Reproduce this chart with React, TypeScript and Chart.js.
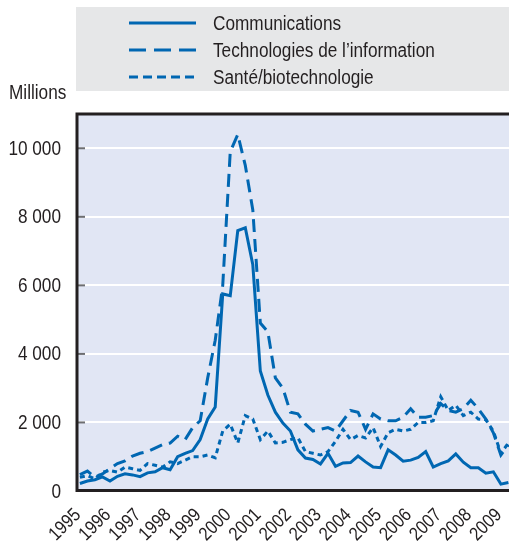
import React, { useEffect, useRef } from "react";
import { Chart, registerables } from "chart.js";

Chart.register(...registerables);

// ---- Data (quarterly, 1995 Q1 – 2009 Q2), millions ----
const firstYear = 1995;
const yearTicks = [1995, 1996, 1997, 1998, 1999, 2000, 2001, 2002, 2003, 2004, 2005, 2006, 2007, 2008, 2009];
const seriesNames = ["Communications", "Technologies de l\u2019information", "Sant\u00e9/biotechnologie"];
const yAxisTitle = "Millions";

const communications = [
  220, 290, 330, 410, 290, 430, 500, 470,
  420, 530, 560, 680, 620, 1000, 1100, 1180,
  1500, 2100, 2450, 5750, 5700, 7600, 7680, 6600,
  3500, 2800, 2300, 1980, 1750, 1200, 960, 920,
  790, 1100, 720, 820, 830, 1020, 850, 700,
  680, 1200, 1050, 870, 900, 980, 1150, 700,
  800, 880, 1080, 840, 680, 680, 520, 560,
  200, 250,
];

const technologies = [
  480, 580, 400, 500, 650, 800, 880, 1020,
  1100, 1150, 1250, 1350, 1400, 1600, 1500, 1850,
  2050, 3300, 4400, 6000, 9900, 10400, 9500, 8200,
  4900, 4650, 3300, 3000, 2300, 2250, 1950, 1750,
  1800, 1850, 1750, 2050, 2350, 2300, 1800, 2250,
  2100, 2050, 2050, 2150, 2400, 2150, 2150, 2200,
  2550, 2350, 2300, 2400, 2650, 2400, 2100, 1700,
  1050, 1350,
];

const sante = [
  400, 450, 350, 550, 600, 550, 700, 650,
  600, 800, 750, 700, 850, 800, 900, 1000,
  1000, 1050, 970, 1750, 1950, 1400, 2200, 2100,
  1500, 1750, 1400, 1420, 1500, 1550, 1150, 1100,
  1050, 1150, 1450, 1800, 1500, 1620, 1550, 1850,
  1300, 1700, 1800, 1750, 1800, 2000, 2000, 2050,
  2750, 2350, 2500, 2200, 2300, 2100, 2080, 1750,
  1100, 1400,
];

const yTickValues = [0, 2000, 4000, 6000, 8000, 10000];

const toPoints = (vals: number[]) => vals.map((v, i) => ({ x: firstYear + i / 4, y: v }));
const fmtThousands = (v: number) => String(v).replace(/\B(?=(\d{3})+(?!\d))/g, " ");

const BLUE = "#0067b2";
const TEXT = "#231f20";
const FONT = '"Liberation Sans", Arial, sans-serif';
const NARROW = 0.86;

const dashes: number[][] = [[], [13, 7], [5, 4]];

function narrowText(ctx: CanvasRenderingContext2D, text: string, x: number, y: number, align: CanvasTextAlign, rot = 0) {
  ctx.save();
  ctx.translate(x, y);
  if (rot) ctx.rotate(rot);
  ctx.scale(NARROW, 1);
  ctx.textAlign = align;
  ctx.textBaseline = "middle";
  ctx.fillText(text, 0, 0);
  ctx.restore();
}

const decorPlugin = {
  id: "decor",
  beforeDraw(chart: any) {
    const { ctx, chartArea: a } = chart;
    ctx.save();
    // plot background
    ctx.fillStyle = "#e1e6f4";
    ctx.fillRect(a.left, a.top, a.right - a.left, a.bottom - a.top);
    // legend box
    ctx.fillStyle = "#e6e7e8";
    ctx.fillRect(a.left, 7, chart.width - a.left, 84);
    const rows = [23, 50, 77];
    seriesNames.forEach((name, i) => {
      ctx.strokeStyle = BLUE;
      ctx.lineWidth = 3;
      ctx.setLineDash(i === 1 ? [17, 8] : i === 2 ? [9, 5] : []);
      ctx.beginPath();
      ctx.moveTo(129, rows[i]);
      ctx.lineTo(196, rows[i]);
      ctx.stroke();
      ctx.setLineDash([]);
      ctx.fillStyle = TEXT;
      ctx.font = `20px ${FONT}`;
      narrowText(ctx, name, 213, rows[i] + 1, "left");
    });
    // axis title
    ctx.fillStyle = TEXT;
    ctx.font = `20px ${FONT}`;
    narrowText(ctx, yAxisTitle, 9, 93, "left");
    ctx.restore();
  },
  afterDraw(chart: any) {
    const { ctx, chartArea: a, scales } = chart;
    ctx.save();
    // inward y tick marks
    ctx.strokeStyle = "#6d6e71";
    ctx.lineWidth = 2;
    scales.y.ticks.forEach((t: any) => {
      if (t.value === 0) return;
      const y = scales.y.getPixelForValue(t.value);
      ctx.beginPath();
      ctx.moveTo(a.left, y);
      ctx.lineTo(a.left + 9, y);
      ctx.stroke();
    });
    // frame
    ctx.strokeStyle = TEXT;
    ctx.lineWidth = 3;
    ctx.beginPath();
    ctx.moveTo(chart.width + 2, a.top);
    ctx.lineTo(a.left + 1, a.top);
    ctx.lineTo(a.left + 1, a.bottom - 0.5);
    ctx.lineTo(chart.width + 2, a.bottom - 0.5);
    ctx.stroke();
    // tick labels (condensed text)
    ctx.fillStyle = TEXT;
    ctx.font = `20px ${FONT}`;
    scales.y.ticks.forEach((t: any) => {
      const y = scales.y.getPixelForValue(t.value);
      narrowText(ctx, fmtThousands(t.value), a.left - 15, y + 1, "right");
    });
    ctx.font = `19px ${FONT}`;
    scales.x.ticks.forEach((t: any) => {
      const x = scales.x.getPixelForValue(t.value);
      narrowText(ctx, String(t.value), x - 2, a.bottom + 21, "right", -Math.PI / 4);
    });
    ctx.restore();
  },
};

export default function App() {
  const canvasRef = useRef<HTMLCanvasElement | null>(null);

  useEffect(() => {
    if (!canvasRef.current) return;
    const seriesValues = [communications, technologies, sante];
    const chart = new Chart(canvasRef.current, {
      type: "line",
      data: {
        datasets: seriesNames.map((name, i) => ({
          label: name,
          data: toPoints(seriesValues[i]),
          borderColor: BLUE,
          borderWidth: 3,
          borderDash: dashes[i],
          pointRadius: 0,
          tension: 0,
          fill: false,
        })),
      },
      options: {
        animation: false,
        responsive: false,
        maintainAspectRatio: false,
        layout: { padding: { top: 114, left: 0, right: 0, bottom: 0 } },
        plugins: {
          legend: { display: false },
          tooltip: { enabled: false },
          title: { display: false },
        },
        scales: {
          x: {
            type: "linear",
            min: 1994.87,
            max: 2009.27,
            afterFit: (s: any) => {
              s.height = 50;
              s.paddingLeft = 0;
              s.paddingRight = 0;
            },
            afterBuildTicks: (s: any) => {
              s.ticks = yearTicks.map((v) => ({ value: v }));
            },
            grid: { display: false, drawTicks: false },
            border: { display: false },
            ticks: { display: false, autoSkip: false },
          },
          y: {
            type: "linear",
            min: 0,
            max: 11000,
            afterFit: (s: any) => {
              s.width = 76;
              s.paddingTop = 0;
              s.paddingBottom = 0;
            },
            afterBuildTicks: (s: any) => {
              s.ticks = yTickValues.map((v) => ({ value: v }));
            },
            grid: { color: "#ffffff", lineWidth: 2, drawTicks: false },
            border: { display: false },
            ticks: { display: false },
          },
        },
      },
      plugins: [decorPlugin],
    });
    return () => chart.destroy();
  }, []);

  return (
    <div style={{ position: "absolute", left: 0, top: 0, width: 509, height: 541, background: "#ffffff" }}>
      <canvas ref={canvasRef} width={509} height={541} style={{ display: "block", width: 509, height: 541 }} />
    </div>
  );
}
